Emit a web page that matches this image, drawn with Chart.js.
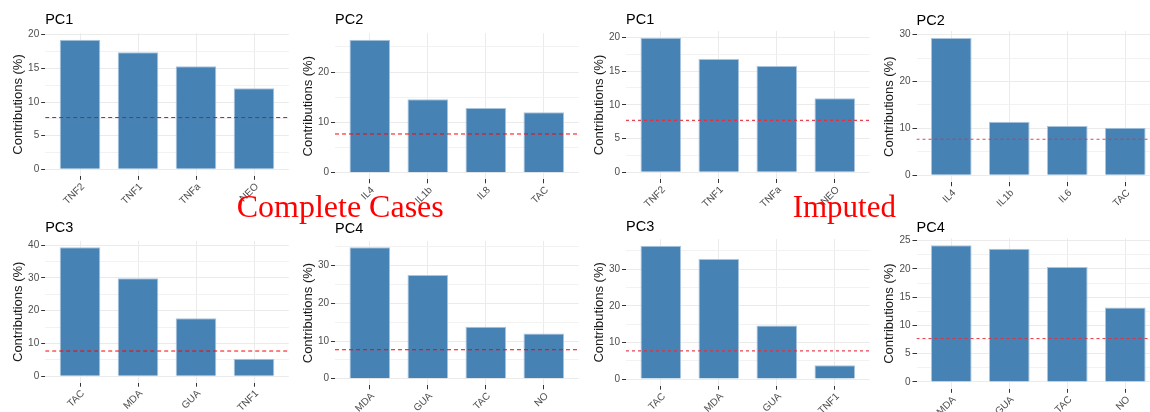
<!DOCTYPE html>
<html>
<head>
<meta charset="utf-8">
<title>PCA variable contributions</title>
<script src="https://cdn.jsdelivr.net/npm/chart.js@4.4.1/dist/chart.umd.min.js"></script>
<style>
  html, body { margin: 0; padding: 0; background: #ffffff; }
  body { width: 1150px; height: 412px; position: relative; overflow: hidden; }
  .panel { position: absolute; }
  .panel canvas { display: block; }
  .soft canvas { filter: blur(0.5px); }
  .caption {
    position: absolute; z-index: 10; white-space: nowrap;
    font-family: "Liberation Serif", "Times New Roman", serif;
    color: #ff0000; line-height: 32px;
  }
</style>
</head>
<body>
<div class="caption" style="left:236.7px; top:190px; font-size:32px;">Complete Cases</div>
<div class="caption" style="left:792.7px; top:190.5px; font-size:31px;">Imputed</div>

<script>
// ---- contributions (%) of the top variables to each principal component ----
const completePC1Labels = ['TNF2', 'TNF1', 'TNFa', 'NEO'];
const completePC1Values = [19.26, 17.4, 15.3, 12.03];
const completePC2Labels = ['IL4', 'IL1b', 'IL8', 'TAC'];
const completePC2Values = [26.4, 14.6, 12.86, 12.0];
const completePC3Labels = ['TAC', 'MDA', 'GUA', 'TNF1'];
const completePC3Values = [39.3, 29.9, 17.7, 5.37];
const completePC4Labels = ['MDA', 'GUA', 'TAC', 'NO'];
const completePC4Values = [34.85, 27.5, 13.8, 12.0];

const imputedPC1Labels = ['TNF2', 'TNF1', 'TNFa', 'NEO'];
const imputedPC1Values = [19.94, 16.8, 15.75, 10.96];
const imputedPC2Labels = ['IL4', 'IL1b', 'IL6', 'TAC'];
const imputedPC2Values = [29.27, 11.43, 10.5, 10.15];
const imputedPC3Labels = ['TAC', 'MDA', 'GUA', 'TNF1'];
const imputedPC3Values = [36.4, 32.8, 14.6, 3.74];
const imputedPC4Labels = ['MDA', 'GUA', 'TAC', 'NO'];
const imputedPC4Values = [24.2, 23.6, 20.35, 13.2];

// expected average contribution (reference line), 13 variables
const expectedContribution = 7.69;

// y-axis tick values (labelled) and minor grid values
const ticksBy5 = [0, 5, 10, 15, 20];
const minorBy5 = [2.5, 7.5, 12.5, 17.5];
const ticks0to20 = [0, 10, 20];
const ticks0to30 = [0, 10, 20, 30];
const ticks0to40 = [0, 10, 20, 30, 40];
const minor5to25 = [5, 15, 25];
const minor5to35 = [5, 15, 25, 35];
const ticksBy5to25 = [0, 5, 10, 15, 20, 25];
const minorBy5to25 = [2.5, 7.5, 12.5, 17.5, 22.5];

// ---- drawing ----
Chart.defaults.font.family = "'Liberation Sans', Arial, Helvetica, sans-serif";
Chart.defaults.color = '#4D4D4D';

const AXIS_W = 48;   // room for tick labels and the y title
const AXIS_H = 46;   // room for rotated category labels

function drawPanel(p) {
  const top = Math.max(...p.values);
  const yMin = -0.05 * top, yMax = 1.05 * top;
  const titleSize = 14.5, titleLH = 1.2;
  const titlePadBottom = p.titleGap - titleSize * titleLH / 2;
  const titleH = titleSize * titleLH + titlePadBottom;

  const b = p.box;
  const left0 = Math.floor(b.left - AXIS_W);
  const axisW = b.left - left0;
  const top0 = Math.floor(b.top - titleH);
  const padTop = b.top - titleH - top0;
  const cw = Math.ceil(b.right - left0);
  const ch = Math.ceil(b.bottom - top0 + AXIS_H);
  const padRight = cw - (b.right - left0);
  const padBottom = ch - AXIS_H - (b.bottom - top0);

  const div = document.createElement('div');
  div.className = 'panel' + (p.soft ? ' soft' : '');
  div.style.left = left0 + 'px';
  div.style.top = top0 + 'px';
  const cv = document.createElement('canvas');
  cv.width = cw; cv.height = ch;
  cv.style.width = cw + 'px'; cv.style.height = ch + 'px';
  div.appendChild(cv);
  document.body.appendChild(div);

  const majors = new Set(p.major);
  const allY = p.major.concat(p.minor).sort((a, c) => a - c);
  const xPos = p.labels.map((_, i) => i + 1);

  new Chart(cv, {
    data: {
      datasets: [
        {
          type: 'line',
          order: 0,
          data: [{ x: 0.4, y: expectedContribution }, { x: 4.6, y: expectedContribution }],
          borderColor: p.soft ? 'rgba(226,48,62,0.9)' : '#ff0000',
          borderWidth: p.soft ? 1.2 : 1,
          borderDash: p.soft ? [3, 3] : [4, 3],
          pointRadius: 0,
          fill: false
        },
        {
          type: 'bar',
          order: 1,
          data: p.values.map((v, i) => ({ x: xPos[i], y: v })),
          backgroundColor: '#4682B4',
          borderColor: '#A9C4DD',
          borderWidth: 1,
          barPercentage: 0.7,
          categoryPercentage: 1.0
        }
      ]
    },
    options: {
      responsive: false,
      animation: false,
      devicePixelRatio: 1,
      events: [],
      layout: { padding: { left: 0, top: padTop, right: padRight, bottom: padBottom } },
      plugins: {
        legend: { display: false },
        tooltip: { enabled: false },
        title: {
          display: true,
          text: p.title,
          align: 'start',
          fullSize: false,
          color: '#000000',
          font: { size: titleSize, weight: 'normal', lineHeight: titleLH },
          padding: { top: 0, bottom: titlePadBottom }
        }
      },
      scales: {
        x: {
          type: 'linear',
          min: 0.4, max: 4.6,
          offset: false,
          bounds: 'data',
          afterBuildTicks: s => { s.ticks = xPos.map(v => ({ value: v })); },
          afterFit: s => { s.height = AXIS_H; s.paddingLeft = 0; s.paddingRight = 0; },
          border: { display: false },
          grid: { offset: false, color: '#EBEBEB', lineWidth: 1, tickLength: 4, tickColor: '#333333', tickWidth: 1 },
          ticks: {
            autoSkip: false,
            minRotation: 45, maxRotation: 45,
            padding: 1,
            labelOffset: 3,
            color: '#4D4D4D',
            font: { size: 10 },
            callback: v => p.labels[Math.round(v) - 1]
          }
        },
        y: {
          type: 'linear',
          min: yMin, max: yMax,
          bounds: 'data',
          afterBuildTicks: s => { s.ticks = allY.map(v => ({ value: v })); },
          afterFit: s => { s.width = axisW; s.paddingTop = 0; s.paddingBottom = 0; },
          border: { display: false },
          grid: {
            color: c => majors.has(c.tick && c.tick.value) ? '#EBEBEB' : '#F2F2F2',
            lineWidth: 1,
            tickLength: 4,
            tickWidth: 1,
            tickColor: c => majors.has(c.tick && c.tick.value) ? '#333333' : 'rgba(0,0,0,0)'
          },
          ticks: {
            autoSkip: false,
            padding: 2,
            color: '#4D4D4D',
            font: { size: 10 },
            callback: v => majors.has(v) ? String(v) : ''
          },
          title: {
            display: true,
            text: 'Contributions (%)',
            color: '#1A1A1A',
            font: { size: 13, lineHeight: 1.2 },
            padding: { top: axisW - 27 - 7.8, bottom: 0 }
          }
        }
      }
    }
  });
}

const panels = [
  { title: 'PC1', labels: completePC1Labels, values: completePC1Values, major: ticksBy5, minor: minorBy5,
    box: { left: 45.2, right: 288.8, top: 33.2, bottom: 175.8 }, titleGap: 12.9 },
  { title: 'PC2', labels: completePC2Labels, values: completePC2Values, major: ticks0to20, minor: minor5to25,
    box: { left: 335, right: 578.6, top: 33.2, bottom: 179.3 }, titleGap: 12.9 },
  { title: 'PC3', labels: completePC3Labels, values: completePC3Values, major: ticks0to40, minor: minor5to35,
    box: { left: 45.2, right: 288.8, top: 240.9, bottom: 382.7 }, titleGap: 13.4 },
  { title: 'PC4', labels: completePC4Labels, values: completePC4Values, major: ticks0to30, minor: minor5to35,
    box: { left: 335, right: 578.6, top: 240.8, bottom: 385.3 }, titleGap: 12.0 },
  { title: 'PC1', labels: imputedPC1Labels, values: imputedPC1Values, major: ticksBy5, minor: minorBy5,
    box: { left: 626, right: 869.6, top: 31.0, bottom: 179.0 }, titleGap: 11.2, soft: true },
  { title: 'PC2', labels: imputedPC2Labels, values: imputedPC2Values, major: ticks0to30, minor: minor5to25,
    box: { left: 916.5, right: 1160.1, top: 31.2, bottom: 182.2 }, titleGap: 10.7, soft: true },
  { title: 'PC3', labels: imputedPC3Labels, values: imputedPC3Values, major: ticks0to30, minor: minor5to35,
    box: { left: 626, right: 869.6, top: 239.1, bottom: 385.7 }, titleGap: 12.3, soft: true },
  { title: 'PC4', labels: imputedPC4Labels, values: imputedPC4Values, major: ticksBy5to25, minor: minorBy5to25,
    box: { left: 916.5, right: 1160.1, top: 238.4, bottom: 388.8 }, titleGap: 10.9, soft: true }
];

panels.forEach(drawPanel);
</script>
</body>
</html>
